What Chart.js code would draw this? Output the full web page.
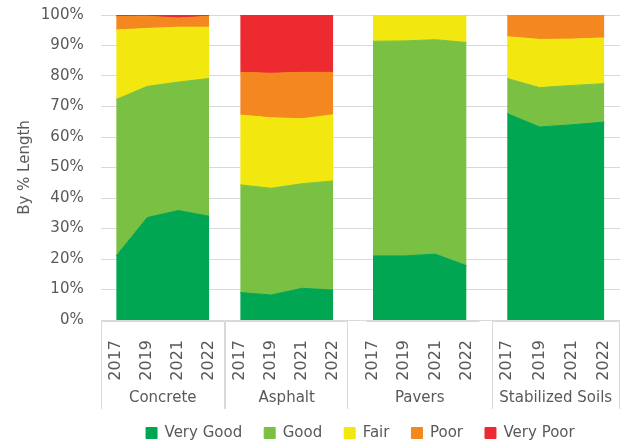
<!DOCTYPE html>
<html>
<head>
<meta charset="utf-8">
<script src="https://cdn.jsdelivr.net/npm/chart.js@4"></script>
<style>
  html, body { margin: 0; padding: 0; background: #fff; }
  #wrap { width: 621px; height: 445px; }
</style>
</head>
<body>
<div id="wrap"><canvas id="conditionChart" width="621" height="445"></canvas></div>
<script>
const years = ["2017", "2019", "2021", "2022"];
const surfaces = ["Concrete", "Asphalt", "Pavers", "Stabilized Soils"];
const conditions = ["Very Good", "Good", "Fair", "Poor", "Very Poor"];
const yTicks = [0, 10, 20, 30, 40, 50, 60, 70, 80, 90, 100];

// % of length, per surface (Concrete, Asphalt, Pavers, Stabilized Soils) x years
const veryGood = [21.0, 33.6, 35.9, 34.0, 9.0, 8.2, 10.4, 9.8, 21.0, 21.0, 21.6, 17.8, 67.7, 63.3, 64.0, 64.9];
const good = [51.3, 43.0, 42.1, 45.2, 35.3, 35.0, 34.3, 35.8, 70.4, 70.5, 70.3, 73.2, 11.5, 12.9, 12.9, 12.6];
const fair = [22.8, 19.0, 18.0, 16.8, 22.9, 23.1, 21.3, 21.7, 8.6, 8.5, 8.1, 9.0, 13.7, 15.8, 15.2, 15.0];
const poor = [4.4, 4.0, 3.0, 3.6, 14.0, 14.6, 15.2, 13.9, 0, 0, 0, 0, 7.1, 8.0, 7.9, 7.5];
const veryPoor = [0.5, 0.4, 1.0, 0.4, 18.8, 19.1, 18.8, 18.8, 0, 0, 0, 0, 0, 0, 0, 0];

const seriesValues = [veryGood, good, fair, poor, veryPoor];
const colors = ["#00a651", "#7ac143", "#f2e70f", "#f4871f", "#ec2a30"];

// layout: where each panel sits on the slot axis
const panelStart = [0.5, 4.5, 8.78, 13.11];
const panelStep = [1, 1, 1.007, 1.045];
const groupBoxes = [
  { from: 0, to: 4, sides: true },
  { from: 4, to: 7.97, sides: true },
  { from: 8.56, to: 12.24, sides: false },
  { from: 12.61, to: 16.75, sides: true },
];
const textColor = "#595959";
const fontFamily = "'DejaVu Sans', sans-serif";

function slotX(s, i) {
  return panelStart[s] + i * panelStep[s];
}

function buildDatasets() {
  const datasets = [];
  surfaces.forEach((surface, s) => {
    conditions.forEach((cond, c) => {
      datasets.push({
        label: cond,
        stack: surface,
        data: years.map((yr, i) => ({ x: slotX(s, i), y: seriesValues[c][s * 4 + i] })),
        backgroundColor: colors[c],
        borderColor: colors[c],
        borderWidth: 1,
        pointRadius: 0,
        tension: 0,
        fill: c === 0 ? "origin" : "-1",
      });
    });
  });
  return datasets;
}

const groupAxisPlugin = {
  id: "groupAxis",
  afterDraw(chart) {
    const ctx = chart.ctx;
    const xs = chart.scales.x;
    const top = chart.chartArea.bottom + 1.5;
    const bottom = 409;
    ctx.save();
    ctx.strokeStyle = "#d9d9d9";
    ctx.lineWidth = 1;
    groupBoxes.forEach((g) => {
      const a = Math.round(xs.getPixelForValue(g.from)) + 0.5;
      const b = Math.round(xs.getPixelForValue(g.to)) - 0.5;
      ctx.beginPath();
      ctx.moveTo(a, top);
      ctx.lineTo(b, top);
      if (g.sides) {
        ctx.moveTo(a, top);
        ctx.lineTo(a, bottom);
        ctx.moveTo(b, top);
        ctx.lineTo(b, bottom);
      }
      ctx.stroke();
    });
    ctx.fillStyle = textColor;
    ctx.font = "15px " + fontFamily;
    ctx.textAlign = "center";
    ctx.textBaseline = "middle";
    surfaces.forEach((surface, s) => {
      const mid = (slotX(s, 0) + slotX(s, years.length - 1)) / 2;
      ctx.fillText(surface, xs.getPixelForValue(mid), 398);
    });
    ctx.restore();
  },
};

function initializeChart() {
  const ctx = document.getElementById("conditionChart");
  new Chart(ctx, {
    type: "line",
    data: { datasets: buildDatasets() },
    plugins: [groupAxisPlugin],
    options: {
      responsive: false,
      animation: false,
      layout: { padding: { top: 15, right: 1, bottom: -5.5, left: 0 } },
      plugins: {
        tooltip: { enabled: false },
        legend: {
          position: "bottom",
          fullSize: false,
          labels: {
            filter: (item) => item.datasetIndex < conditions.length,
            boxWidth: 11,
            boxHeight: 11,
            padding: 22,
            color: textColor,
            font: { family: fontFamily, size: 15 },
          },
        },
      },
      scales: {
        x: {
          type: "linear",
          min: 0,
          max: 16.75,
          grid: { display: false },
          border: { display: false },
          afterBuildTicks: (scale) => {
            const vals = [];
            surfaces.forEach((s, si) => years.forEach((y, i) => vals.push({ value: slotX(si, i) })));
            scale.ticks = vals;
          },
          afterFit: (scale) => {
            scale.height = 83.5;
            scale.paddingLeft = 0;
            scale.paddingRight = 0;
          },
          ticks: {
            autoSkip: false,
            minRotation: 90,
            maxRotation: 90,
            padding: 12,
            color: textColor,
            font: { family: fontFamily, size: 16 },
            callback: (value, index) => years[index % years.length],
          },
        },
        y: {
          stacked: true,
          min: 0,
          max: 100,
          afterBuildTicks: (scale) => {
            scale.ticks = yTicks.map((v) => ({ value: v }));
          },
          afterFit: (scale) => {
            scale.width = 100.7;
            scale.paddingTop = 0;
            scale.paddingBottom = 0;
          },
          grid: { color: "#d9d9d9", drawTicks: false },
          border: { display: false },
          ticks: {
            padding: 17,
            color: textColor,
            font: { family: fontFamily, size: 15 },
            callback: (v) => v + "%",
          },
          title: {
            display: true,
            text: "By % Length",
            color: textColor,
            font: { family: fontFamily, size: 15 },
            padding: { top: 16, bottom: 0 },
          },
        },
      },
    },
  });
}

document.addEventListener("DOMContentLoaded", initializeChart);
</script>
</body>
</html>
